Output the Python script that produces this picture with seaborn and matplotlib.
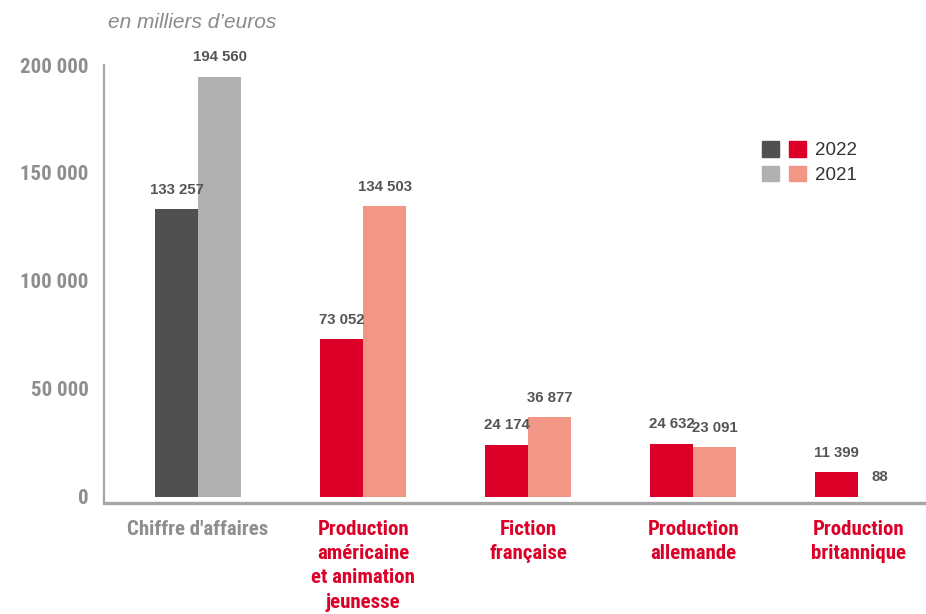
import matplotlib
matplotlib.use("Agg")
import matplotlib.pyplot as plt
from matplotlib.patches import Patch
from matplotlib.legend_handler import HandlerTuple
import seaborn as sns
import pandas as pd

# Data (en milliers d'euros)
categories = [
    "Chiffre d'affaires",
    "Production\naméricaine\net animation\njeunesse",
    "Fiction\nfrançaise",
    "Production\nallemande",
    "Production\nbritannique",
]
values_2022 = [133257, 73052, 24174, 24632, 11399]
values_2021 = [194560, 134503, 36877, 23091, 88]
years = ["2022", "2021"]
y_ticks = [0, 50000, 100000, 150000, 200000]

# Colours: total in greys, segments in reds
grey_2022, grey_2021 = "#505050", "#b1b1b1"
red_2022, red_2021 = "#dc0028", "#f29686"
label_grey = "#8e8e8e"
value_grey = "#555555"

cond_font = ["Roboto Condensed", "Roboto", "DejaVu Sans"]
value_font = ["Liberation Sans", "DejaVu Sans"]

df = pd.DataFrame({
    "categorie": categories * 2,
    "annee": [years[0]] * len(categories) + [years[1]] * len(categories),
    "valeur": values_2022 + values_2021,
})

sns.set_theme(style="white")
plt.rcParams["font.family"] = value_font

fig = plt.figure(figsize=(9.26, 6.14), dpi=100)
ax = fig.add_axes([104 / 926, 1 - 503 / 614, 1 - 104 / 926, (503 - 65) / 614])

sns.barplot(data=df, x="categorie", y="valeur", hue="annee", order=categories,
            hue_order=years, width=0.52, ax=ax, legend=False,
            palette=[red_2022, red_2021], saturation=1, linewidth=0)

# Recolour the first group (chiffre d'affaires) in greys
ax.containers[0].patches[0].set_facecolor(grey_2022)
ax.containers[1].patches[0].set_facecolor(grey_2021)

def fmt(v):
    return f"{v:,}".replace(",", " ")

for cont, vals in zip(ax.containers, [values_2022, values_2021]):
    ax.bar_label(cont, labels=[fmt(v) for v in vals], padding=9,
                 fontsize=10.8, fontweight="bold", color=value_grey,
                 family=value_font)

ax.set_ylim(-2800, 200000)
ax.set_xlim(-0.57, 4.41)
ax.set_yticks(y_ticks)
ax.set_yticklabels([fmt(t) for t in y_ticks], family=cond_font,
                   fontsize=15, fontweight="bold", color=label_grey)
ax.tick_params(axis="y", length=0, pad=11)
ax.tick_params(axis="x", length=0, pad=12)
ax.set_xticks(range(len(categories)))
ax.set_xticklabels(categories, family=cond_font, fontsize=15,
                   fontweight="bold", linespacing=1.36, va="top")
for i, lab in enumerate(ax.get_xticklabels()):
    lab.set_color(label_grey if i == 0 else red_2022)

ax.set_xlabel("")
ax.set_ylabel("")
for side in ["top", "right"]:
    ax.spines[side].set_visible(False)
ax.spines["left"].set_color("#a5a5a5")
ax.spines["left"].set_linewidth(1.6)
ax.spines["bottom"].set_color("#a5a5a5")
ax.spines["bottom"].set_linewidth(2.4)
ax.grid(False)

# Legend: grey + red swatches per year
h22 = (Patch(color=grey_2022), Patch(color=red_2022))
h21 = (Patch(color=grey_2021), Patch(color=red_2021))
ax.legend([h22, h21], years, handler_map={tuple: HandlerTuple(ndivide=None, pad=0.53)},
          loc="upper left", bbox_to_anchor=(0.8005, 0.826), frameon=False,
          fontsize=13.5, handlelength=2.35, handleheight=0.9, handletextpad=0.45,
          labelspacing=0.33, borderpad=0, borderaxespad=0, labelcolor="#333333")

fig.text(108 / 926, 1 - 22 / 614, "en milliers d\u2019euros", fontsize=15,
         style="italic", color="#8a8a8a", va="center", ha="left",
         family=value_font)

fig.savefig("out.png", dpi=100)
